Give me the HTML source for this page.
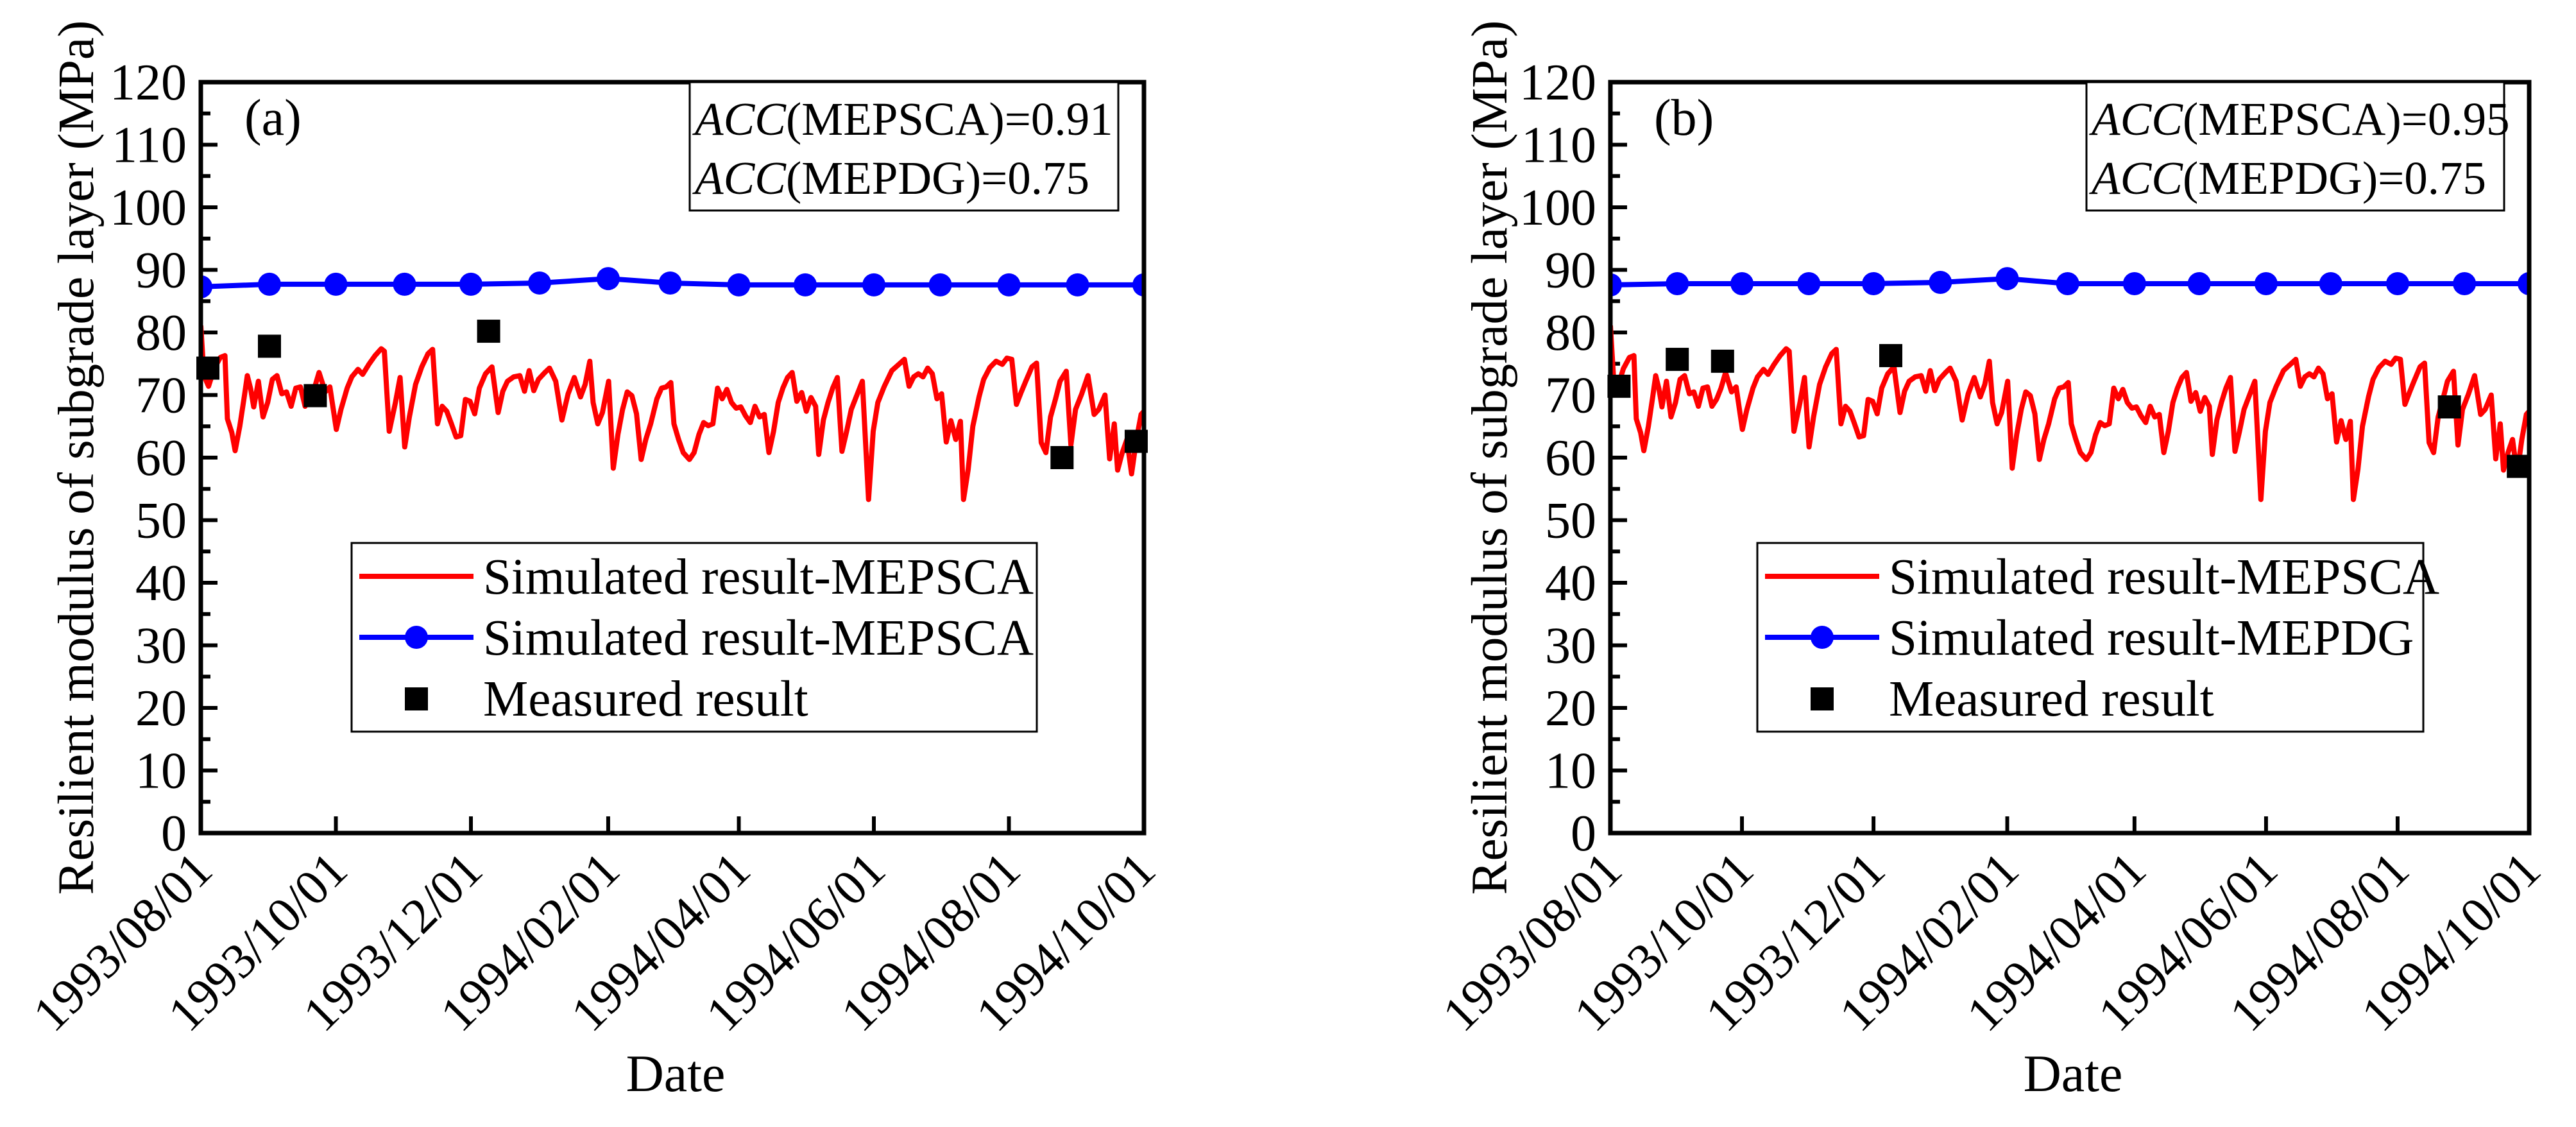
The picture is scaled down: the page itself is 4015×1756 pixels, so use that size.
<!DOCTYPE html>
<html><head><meta charset="utf-8"><style>
body{margin:0;background:#fff;}
svg, svg text{font-family:"Liberation Serif","Times New Roman",Times,"Noto Serif CJK SC","DejaVu Serif",serif;}
</style></head><body>
<svg id="fig" width="4015" height="1751" viewBox="0 0 4015 1751" xmlns="http://www.w3.org/2000/svg"></svg>
<script>
// ---- data ----
const tickLabels = ["1993/08/01","1993/10/01","1993/12/01","1994/02/01","1994/04/01","1994/06/01","1994/08/01","1994/10/01"];
const tickDays = [0,61,122,184,243,304,365,426];
const yTicks = [0,10,20,30,40,50,60,70,80,90,100,110,120];
const simDays = [0,1.4,3.5,6,8.8,10.9,12,14,15.5,17.6,19.7,21,22.5,23.9,26,28.1,30.2,32.3,34.4,36.6,38.7,40.8,42.9,45,47.1,49.2,51.3,53.4,56.2,58.3,61.2,63.3,66.1,68.2,71,73.1,75.9,78.7,81.5,82.9,85.1,87.9,90,92.1,94.2,97,99.8,102.6,104.7,106.9,109,111.1,113.2,115.3,117.4,119.5,121.6,123.7,125.8,128.6,131.5,134.3,136.4,138.5,141.3,144.1,146.2,148.3,150.4,152.5,155.4,157.5,160.3,163.1,165.9,168.7,171.5,173.6,175.7,177.2,179.3,181.4,184.2,186.3,188.4,190.5,192.6,194.7,196.8,198.9,201,203.2,206,208.1,210.2,212.3,213.7,215.8,217.9,220.7,222.8,225,227.1,229.2,231.3,233.4,235.5,237.6,239.7,241.8,243.9,246,248.2,250.3,252.4,254.5,256.6,258.7,260.8,262.9,265,267.1,269.2,271.4,273.5,275.6,277.7,279.1,281.2,283.3,285.4,287.5,289.6,291.7,293.8,295.9,298.8,301.6,303.7,305.8,308.6,312.1,315.6,317.8,319.9,322,324.1,326.2,328.3,330.4,332.5,334.6,336.7,338.8,341,343.1,344.5,346.6,348.7,351.5,353.6,356.4,359.2,362,364.1,366.3,368.4,370.5,372.6,375.4,377.5,379.6,381.7,383.8,386,388.1,390.9,393,395.1,397.9,400.7,403.5,405.6,408.4,410.5,412.6,414.1,416.2,418.3,420.4,422.6,424.7,426];
const simValsA = [81.1,73.1,71.4,74.2,76.0,76.3,66.2,64.0,61.1,65.0,69.9,73.1,71.0,68.1,72.2,66.5,68.8,72.5,73.1,70.2,70.5,68.2,71.1,71.3,68.2,69.3,71.1,73.6,70.5,71.3,64.5,67.7,71.1,72.9,74.1,73.3,74.9,76.3,77.4,77.0,64.2,68.8,72.8,61.7,66.5,71.7,74.5,76.6,77.3,65.4,68.2,67.4,65.4,63.3,63.5,69.3,69.0,67.0,71.1,73.4,74.5,67.2,70.6,72.2,72.9,73.1,70.6,73.9,70.7,72.5,73.6,74.3,72.2,66.0,70.2,72.8,69.7,71.7,75.4,68.8,65.4,67.2,72.2,58.3,63.7,67.7,70.5,69.9,67.0,59.7,62.9,65.4,69.4,71.1,71.3,72.0,65.4,62.9,60.8,59.7,60.8,63.7,65.6,65.1,65.4,71.1,69.4,70.9,68.8,67.9,68.1,66.7,65.6,68.2,66.5,66.9,60.8,64.2,68.8,71.1,72.8,73.6,69.0,70.4,67.4,69.6,68.2,60.5,66.0,68.8,71.1,72.8,61.0,64.2,67.7,69.6,72.2,53.3,64.2,68.8,71.3,73.9,75.0,75.7,71.4,72.9,73.4,72.9,74.3,73.4,69.4,70.2,62.5,65.9,62.9,65.8,53.3,58.1,65.0,69.7,72.5,74.4,75.4,74.9,75.9,75.7,68.5,70.4,72.2,74.5,75.1,62.4,60.8,66.5,69.3,72.2,73.8,62.0,67.7,70.2,73.1,66.9,67.7,70.0,59.8,65.4,58.0,60.8,62.9,57.4,62.9,66.9,67.4];
const simValsB = simValsA.slice();
const mepdgDays = [0,31,61,92,122,153,184,212,243,273,304,334,365,396,426];
const mepdgA = [87.3,87.7,87.7,87.7,87.7,87.9,88.6,87.9,87.6,87.6,87.6,87.6,87.6,87.6,87.6];
const mepdgB = [87.6,87.8,87.8,87.8,87.8,88.0,88.6,87.8,87.8,87.8,87.8,87.8,87.8,87.8,87.8];
const measDaysA = [3.2,31,51.7,130,389,422.5];
const measValsA = [74.3,77.8,69.9,80.2,60.0,62.6];
const measDaysB = [4,31,52,130,389,421];
const measValsB = [71.4,75.7,75.4,76.3,68.1,58.6];

const NS="http://www.w3.org/2000/svg";
const svg=document.getElementById('fig');
function mk(tag,attrs,parent){const e=document.createElementNS(NS,tag);for(const k in attrs)e.setAttribute(k,attrs[k]);(parent||svg).appendChild(e);return e;}

function panel(cfg){
  const g=mk('g',{});
  
  
  const L=cfg.L,R=cfg.R,T=128,B=1298;
  const xs=d=>L+(d/426)*(R-L);
  const ys=v=>B-(v/120)*(B-T);
  yTicks.forEach((v,i)=>{
    mk('line',{x1:L,x2:L+26,y1:ys(v),y2:ys(v),stroke:'#000','stroke-width':6},g);
    if(i<yTicks.length-1) mk('line',{x1:L,x2:L+15,y1:ys(v+5),y2:ys(v+5),stroke:'#000','stroke-width':6},g);
    const t=mk('text',{x:L-22,y:ys(v)+27,'text-anchor':'end','font-size':80},g);
    t.textContent=v;
    
    
  });
  tickDays.forEach((d,i)=>{
    mk('line',{x1:xs(d),x2:xs(d),y1:B,y2:B-26,stroke:'#000','stroke-width':6},g);
    const t=mk('text',{x:0,y:0,'text-anchor':'end','font-size':78,transform:`translate(${xs(d)+22},${B+62}) rotate(-45)`},g);
    t.textContent=tickLabels[i];
    
    
  });
  const cid='clip'+cfg.id;
  const cp=mk('clipPath',{id:cid},g);mk('rect',{x:L,y:T,width:R-L,height:B-T},cp);
  const rp=mk('polyline',{points:simDays.map((d,i)=>xs(d)+','+ys(cfg.sim[i])).join(' '),fill:'none',stroke:'#ff0000','stroke-width':8,'stroke-linejoin':'round','clip-path':`url(#${cid})`},g);
  
  
  const bp=mk('polyline',{points:mepdgDays.map((d,i)=>xs(d)+','+ys(cfg.mepdg[i])).join(' '),fill:'none',stroke:'#0000ff','stroke-width':8},g);
  
  
  mepdgDays.forEach((d,i)=>{
    const c=mk('circle',{cx:xs(d),cy:ys(cfg.mepdg[i]),r:18,fill:'#0000ff','clip-path':`url(#${cid})`},g);
    
    
  });
  cfg.md.forEach((d,i)=>{
    const s=mk('rect',{x:xs(d)-18,y:ys(cfg.mv[i])-18,width:36,height:36,fill:'#000'},g);
    
    
  });
  const fr=mk('rect',{x:L,y:T,width:R-L,height:B-T,fill:'none',stroke:'#000','stroke-width':7},g);
  
  
  const pl=mk('text',{x:L+68,y:210,'font-size':80},g);pl.textContent=cfg.label;
  
  
  const ab=mk('rect',{x:cfg.accL,y:T,width:cfg.accR-cfg.accL,height:200,fill:'#fff',stroke:'#000','stroke-width':3},g);
  
  
  [['MEPSCA',cfg.acc1,210],['MEPDG',cfg.acc2,302]].forEach(r=>{
    const t=mk('text',{x:cfg.accL+8,y:r[2],'font-size':73},g);
    t.innerHTML='<tspan font-style="italic">ACC</tspan>('+r[0]+')='+r[1];
    
    
  });
  const lg=mk('g',{},g);
  
  
  mk('rect',{x:cfg.lgL,y:846,width:cfg.lgR-cfg.lgL,height:294,fill:'#fff',stroke:'#000','stroke-width':3},lg);
  const sx=cfg.lgL+12, ex=cfg.lgL+190, mx=(sx+ex)/2, tx=cfg.lgL+205;
  mk('line',{x1:sx,x2:ex,y1:898,y2:898,stroke:'#ff0000','stroke-width':8},lg);
  mk('line',{x1:sx,x2:ex,y1:993,y2:993,stroke:'#0000ff','stroke-width':8},lg);
  mk('circle',{cx:mx,cy:993,r:18,fill:'#0000ff'},lg);
  mk('rect',{x:mx-18,y:1071,width:36,height:36,fill:'#000'},lg);
  [[cfg.leg1,925],[cfg.leg2,1020],['Measured result',1115]].forEach(r=>{
    const t=mk('text',{x:tx,y:r[1],'font-size':79},lg);t.textContent=r[0];
    
    
  });
  const yt=mk('text',{x:0,y:0,'text-anchor':'middle','font-size':79,transform:`translate(${cfg.ytX},713) rotate(-90)`},g);
  yt.textContent='Resilient modulus of subgrade layer (MPa)';
  
  
  const xt=mk('text',{x:(L+R)/2+5,y:1700,'text-anchor':'middle','font-size':82},g);
  xt.textContent='Date';
  
  
}
panel({id:'a',name:'panel-a',L:313,R:1783,sim:simValsA,mepdg:mepdgA,md:measDaysA,mv:measValsA,label:'(a)',accL:1075,accR:1743,acc1:'0.91',acc2:'0.75',lgL:548,lgR:1616,leg1:'Simulated result-MEPSCA',leg2:'Simulated result-MEPSCA',ytX:145});
panel({id:'b',name:'panel-b',L:2510,R:3942,sim:simValsB,mepdg:mepdgB,md:measDaysB,mv:measValsB,label:'(b)',accL:3252,accR:3903,acc1:'0.95',acc2:'0.75',lgL:2739,lgR:3777,leg1:'Simulated result-MEPSCA',leg2:'Simulated result-MEPDG',ytX:2348});
</script>
</body></html>
